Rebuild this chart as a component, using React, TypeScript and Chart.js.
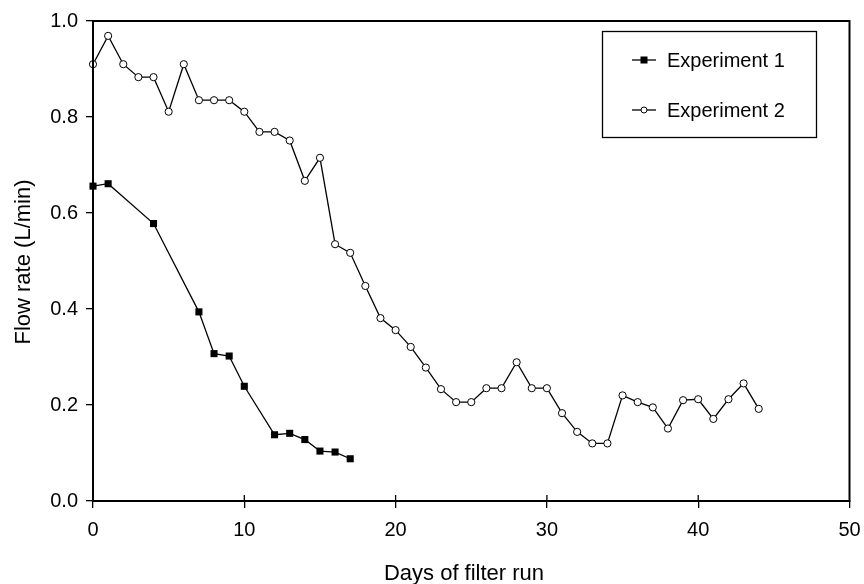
import React, { useEffect, useRef } from "react";
import { Chart, registerables } from "chart.js";

Chart.register(...registerables);

const FONT = "'Liberation Sans', Arial, Helvetica, sans-serif";

const days1 = [0, 1, 4, 7, 8, 9, 10, 12, 13, 14, 15, 16, 17];
const flow1 = [0.656, 0.661, 0.578, 0.394, 0.307, 0.302, 0.239, 0.138, 0.141, 0.128, 0.104, 0.102, 0.088];

const days2 = [
  0, 1, 2, 3, 4, 5, 6, 7, 8, 9, 10, 11, 12, 13, 14, 15, 16, 17, 18, 19, 20, 21,
  22, 23, 24, 25, 26, 27, 28, 29, 30, 31, 32, 33, 34, 35, 36, 37, 38, 39, 40,
  41, 42, 43, 44,
];
const flow2 = [
  0.91, 0.969, 0.91, 0.883, 0.883, 0.811, 0.91, 0.835, 0.835, 0.835, 0.811,
  0.769, 0.769, 0.751, 0.667, 0.715, 0.535, 0.517, 0.448, 0.381, 0.356, 0.321,
  0.278, 0.233, 0.206, 0.206, 0.235, 0.235, 0.289, 0.235, 0.235, 0.183, 0.144,
  0.12, 0.12, 0.22, 0.206, 0.195, 0.151, 0.21, 0.212, 0.171, 0.212, 0.245, 0.192,
];

const seriesLabels = ["Experiment 1", "Experiment 2"];
const xTicks = [0, 10, 20, 30, 40, 50];
const yTicks = [0, 0.2, 0.4, 0.6, 0.8, 1.0];
const xTitle = "Days of filter run";
const yTitle = "Flow rate (L/min)";

const framePlugin = {
  id: "frame",
  afterDraw(chart: any) {
    const { ctx, chartArea, scales } = chart;
    const { left, top, right, bottom } = chartArea;
    const x = scales.x;
    ctx.save();
    ctx.strokeStyle = "#000";
    ctx.lineWidth = 2;
    ctx.strokeRect(left, top, right - left, bottom - top);

    // inner halves of x ticks
    ctx.lineWidth = 1.3;
    for (const v of xTicks.slice(1, -1)) {
      const px = x.getPixelForValue(v);
      ctx.beginPath();
      ctx.moveTo(px, bottom - 6);
      ctx.lineTo(px, bottom);
      ctx.stroke();
    }

    // axis titles
    ctx.fillStyle = "#000";
    ctx.font = `22px ${FONT}`;
    ctx.textAlign = "center";
    ctx.textBaseline = "alphabetic";
    ctx.fillText(xTitle, 464, 580);
    ctx.save();
    ctx.translate(30, (top + bottom) / 2 + 1);
    ctx.rotate(-Math.PI / 2);
    ctx.fillText(yTitle, 0, 0);
    ctx.restore();

    // legend
    ctx.lineWidth = 1.3;
    ctx.strokeRect(602.5, 31.5, 214, 106);
    const rows = [60, 110];
    rows.forEach((ry, i) => {
      ctx.beginPath();
      ctx.moveTo(632, ry);
      ctx.lineTo(656, ry);
      ctx.lineWidth = 1.3;
      ctx.stroke();
      if (i === 0) {
        ctx.fillStyle = "#000";
        ctx.fillRect(640.5, ry - 3.5, 7, 7);
      } else {
        ctx.beginPath();
        ctx.arc(644, ry, 3, 0, Math.PI * 2);
        ctx.fillStyle = "#fff";
        ctx.fill();
        ctx.lineWidth = 1;
        ctx.stroke();
      }
      ctx.fillStyle = "#000";
      ctx.font = `20px ${FONT}`;
      ctx.textAlign = "left";
      ctx.textBaseline = "middle";
      ctx.fillText(seriesLabels[i], 667, ry + 1);
    });
    ctx.restore();
  },
};

export default function App() {
  const canvasRef = useRef<HTMLCanvasElement | null>(null);

  useEffect(() => {
    document.body.style.margin = "0";
    const canvas = canvasRef.current;
    if (!canvas) return;
    const chart = new Chart(canvas, {
      type: "line",
      data: {
        datasets: [
          {
            label: seriesLabels[0],
            data: days1.map((d, i) => ({ x: d, y: flow1[i] })),
            borderColor: "#000",
            backgroundColor: "#000",
            borderWidth: 1.3,
            pointStyle: "rect",
            pointRadius: 5,
            pointBorderWidth: 0,
            pointBackgroundColor: "#000",
            tension: 0,
            clip: false,
          },
          {
            label: seriesLabels[1],
            data: days2.map((d, i) => ({ x: d, y: flow2[i] })),
            borderColor: "#000",
            backgroundColor: "#fff",
            borderWidth: 1.3,
            pointStyle: "circle",
            pointRadius: 3.6,
            pointBorderWidth: 1,
            pointBackgroundColor: "#fff",
            pointBorderColor: "#000",
            tension: 0,
            clip: false,
          },
        ],
      } as any,
      options: {
        animation: false,
        responsive: false,
        maintainAspectRatio: false,
        events: [],
        layout: { padding: { top: 21, right: 14.5, bottom: 0, left: 0 } },
        plugins: {
          legend: { display: false },
          tooltip: { enabled: false },
          title: { display: false },
        },
        scales: {
          x: {
            type: "linear",
            min: 0,
            max: 50,
            afterFit: (s: any) => {
              s.height = 83;
              s.paddingLeft = 0;
              s.paddingRight = 0;
            },
            afterBuildTicks: (s: any) => {
              s.ticks = xTicks.map((v) => ({ value: v }));
            },
            ticks: {
              color: "#000",
              font: { family: FONT, size: 20 },
              padding: 10,
              maxRotation: 0,
              autoSkip: false,
              callback: (v: any) => String(v),
            },
            grid: {
              display: true,
              drawOnChartArea: false,
              drawTicks: true,
              tickLength: 7,
              color: "#000",
              lineWidth: 1.3,
            },
            border: { display: true, color: "#000", width: 2 },
          },
          y: {
            type: "linear",
            min: 0,
            max: 1,
            afterFit: (s: any) => {
              s.width = 93;
              s.paddingTop = 0;
              s.paddingBottom = 0;
            },
            afterBuildTicks: (s: any) => {
              s.ticks = yTicks.map((v) => ({ value: v }));
            },
            ticks: {
              color: "#000",
              font: { family: FONT, size: 20 },
              padding: 8,
              autoSkip: false,
              callback: (v: any) => Number(v).toFixed(1),
            },
            grid: {
              display: true,
              drawOnChartArea: false,
              drawTicks: true,
              tickLength: 7,
              color: "#000",
              lineWidth: 1.3,
            },
            border: { display: true, color: "#000", width: 2 },
          },
        },
      } as any,
      plugins: [framePlugin],
    });
    return () => chart.destroy();
  }, []);

  return (
    <div style={{ width: 864, height: 584, position: "relative", background: "#fff" }}>
      <canvas ref={canvasRef} width={864} height={584} style={{ width: 864, height: 584, display: "block" }} />
    </div>
  );
}
